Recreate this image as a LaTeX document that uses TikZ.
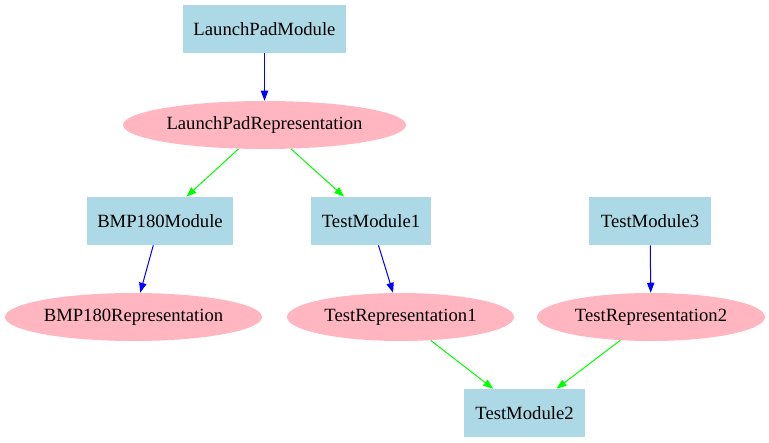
\documentclass[tikz,border=0pt]{standalone}
\usepackage{fontspec}
\setmainfont{Liberation Serif}
\usetikzlibrary{shapes.geometric,arrows.meta}
\definecolor{boxblue}{HTML}{ADD8E6}
\definecolor{ellpink}{HTML}{FFB6C1}
\definecolor{egreen}{HTML}{00FF00}
\definecolor{eblue}{HTML}{0000FF}
\begin{document}
\begin{tikzpicture}[x=0.75pt,y=-0.75pt,
  modbox/.style={rectangle,fill=boxblue,draw=none,inner sep=0pt,minimum height=36pt,font=\fontsize{14pt}{16pt}\selectfont},
  repell/.style={ellipse,fill=ellpink,draw=none,inner sep=0pt,minimum height=36pt,font=\fontsize{14pt}{16pt}\selectfont},
  blueedge/.style={draw=eblue,line width=0.75pt,-{Triangle[length=7.5pt,width=5.5pt]}},
  greenedge/.style={draw=egreen,line width=0.75pt,-{Triangle[length=7.5pt,width=5.5pt]}}]
\useasboundingbox (0,0) rectangle (769,443);
\node[modbox,minimum width=0.75*163pt] (lpm) at (264.5,29) {LaunchPadModule};
\node[repell,minimum width=0.75*283pt] (lpr) at (264.5,125) {LaunchPadRepresentation};
\node[modbox,minimum width=0.75*146pt] (bmpm) at (160,221) {BMP180Module};
\node[modbox,minimum width=0.75*120pt] (tm1) at (371,221) {TestModule1};
\node[modbox,minimum width=0.75*122pt] (tm3) at (650,221) {TestModule3};
\node[repell,minimum width=0.75*257pt] (bmpr) at (133.5,317) {BMP180Representation};
\node[repell,minimum width=0.75*227pt] (tr1) at (400.5,317) {TestRepresentation1};
\node[repell,minimum width=0.75*228pt] (tr2) at (651,317) {TestRepresentation2};
\node[modbox,minimum width=0.75*121pt] (tm2) at (524.5,413) {TestModule2};
\draw[blueedge] (lpm) -- (lpr);
\draw[greenedge] (lpr) -- (bmpm);
\draw[greenedge] (lpr) -- (tm1);
\draw[blueedge] (bmpm) -- (bmpr);
\draw[blueedge] (tm1) -- (tr1);
\draw[blueedge] (tm3) -- (tr2);
\draw[greenedge] (tr1) -- (tm2);
\draw[greenedge] (tr2) -- (tm2);
\end{tikzpicture}
\end{document}
